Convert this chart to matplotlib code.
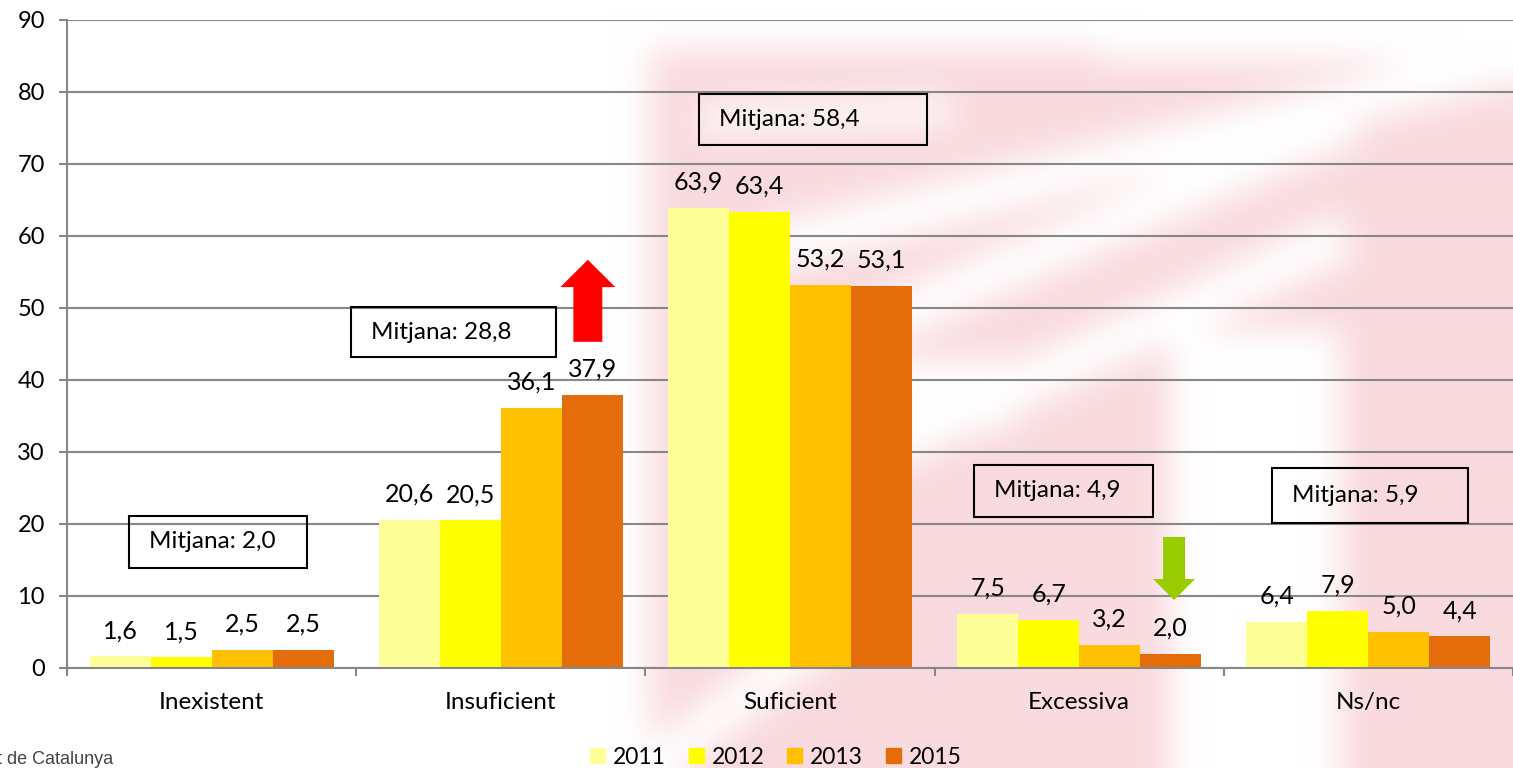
import numpy as np
import matplotlib
matplotlib.use('Agg')
import matplotlib.pyplot as plt
from matplotlib.patches import Rectangle, FancyArrow, Patch

plt.rcParams['font.family'] = ['Lato', 'DejaVu Sans']

# data
categories = ['Inexistent', 'Insuficient', 'Suficient', 'Excessiva', 'Ns/nc']
years = ['2011', '2012', '2013', '2015']
v2011 = [1.6, 20.6, 63.9, 7.5, 6.4]
v2012 = [1.5, 20.5, 63.4, 6.7, 7.9]
v2013 = [2.5, 36.1, 53.2, 3.2, 5.0]
v2015 = [2.5, 37.9, 53.1, 2.0, 4.4]
means = [2.0, 28.8, 58.4, 4.9, 5.9]

colors = ['#FFFF99', '#FFFF00', '#FFC000', '#E46C0A']
W, H = 1513, 768

fig = plt.figure(figsize=(W / 100, H / 100), dpi=100)

# faded logo watermark in the background (rough)
yy, xx = np.mgrid[0:H, 0:W].astype(float)
mask = ((xx >= 650) & (yy >= 50)).astype(float)


def band(x0, y0, x1, y1, w):
    dx, dy = x1 - x0, y1 - y0
    L = np.hypot(dx, dy)
    t = ((xx - x0) * dx + (yy - y0) * dy) / L**2
    d = np.abs((xx - x0) * dy - (yy - y0) * dx) / L
    return (t >= 0) & (t <= 1) & (d <= w / 2)


for seg in [(1100, 30, 1513, 30, 60), (760, 250, 1513, 60, 45), (860, 330, 1350, 120, 45),
            (880, 450, 1345, 235, 45), (650, 768, 830, 630, 40), (700, 120, 950, 110, 25)]:
    mask[band(*seg)] = 0
mask[(xx >= 1170) & (xx <= 1340) & (yy >= 330)] = 0
mask[(xx >= 890) & (xx <= 1010) & (yy >= 360) & (yy <= 430)] = 0


def blur(a, r):
    k = np.ones(2 * r + 1) / (2 * r + 1)
    for _ in range(3):
        a = np.apply_along_axis(lambda m: np.convolve(m, k, mode='same'), 0, a)
        a = np.apply_along_axis(lambda m: np.convolve(m, k, mode='same'), 1, a)
    return a


pad = 60
big = np.pad(mask, pad, mode='edge')
mask = blur(big, 15)[pad:-pad, pad:-pad] * 0.95
pink = np.array([249, 217, 221]) / 255.0
img = np.ones((H, W, 3)) * (1 - mask[..., None]) + pink * mask[..., None]
fig.figimage(img, xo=0, yo=0, origin='upper', zorder=-5)

ax = fig.add_axes([67 / W, 1 - 668 / H, 1 - 67 / W, (668 - 20) / H])
ax.patch.set_alpha(0)

x = np.arange(len(categories))
bw = 0.211
series = [v2011, v2012, v2013, v2015]
for i, (vals, c) in enumerate(zip(series, colors)):
    pos = x + (i - 1.5) * bw
    ax.bar(pos, vals, width=bw, color=c, zorder=3)
    for px, v in zip(pos, vals):
        ax.annotate(f'{v:.1f}'.replace('.', ','), (px, v), xytext=(0, 13),
                    textcoords='offset points', ha='center', va='baseline',
                    fontsize=18, zorder=4)

ax.set_xlim(-0.5, 4.5)
ax.set_ylim(0, 90)
ax.set_yticks(range(0, 91, 10))
ax.grid(axis='y', color='#878787', lw=1.5, zorder=1)
ax.set_xticks(x)
ax.set_xticklabels(categories, fontsize=17.5)
ax.set_xticks(np.arange(-0.5, 5, 1), minor=True)
ax.tick_params(axis='x', which='major', length=0, pad=17)
ax.tick_params(axis='x', which='minor', length=6, width=1.5, color='#878787')
ax.tick_params(axis='y', length=6, width=1.5, color='#878787', pad=10, labelsize=17)
for s in ['top', 'right']:
    ax.spines[s].set_visible(False)
for s in ['left', 'bottom']:
    ax.spines[s].set_color('#878787')
    ax.spines[s].set_linewidth(1.5)
    ax.spines[s].set_zorder(5)

# "Mitjana" boxes
boxes = [(-0.286, 13.9, 0.616, 7.2), (0.482, 43.2, 0.709, 6.9),
         (1.685, 72.6, 0.789, 7.1), (2.636, 21.0, 0.619, 7.2),
         (3.667, 20.1, 0.677, 7.7)]
for (bx, by, bwid, bh), m in zip(boxes, means):
    ax.add_patch(Rectangle((bx, by), bwid, bh, fill=False, ec='black', lw=1.5, zorder=6))
    ax.text(bx + 0.068, by + bh / 2, 'Mitjana: ' + f'{m:.1f}'.replace('.', ','),
            ha='left', va='center', fontsize=17.5, zorder=6)

# trend arrows
ax.add_patch(FancyArrow(1.301, 45.3, 0, 56.7 - 45.3, width=0.100, head_width=0.190,
                        head_length=56.7 - 52.9, length_includes_head=True,
                        color='#FF0000', lw=0, zorder=6))
ax.add_patch(FancyArrow(3.328, 18.2, 0, 9.44 - 18.2, width=0.076, head_width=0.145,
                        head_length=12.36 - 9.44, length_includes_head=True,
                        color='#99CC00', lw=0, zorder=6))

handles = [Patch(color=c) for c in colors]
fig.legend(handles, years, loc='center', bbox_to_anchor=(776 / W, 1 - 757 / H),
           ncol=4, frameon=False, fontsize=16.5, handlelength=0.65, handleheight=0.65,
           handletextpad=0.35, columnspacing=1.0)

fig.text(-3 / W, 1 - 759 / H, 't de Catalunya', family=['Liberation Sans', 'DejaVu Sans'],
         fontsize=13, color='#444444', va='center', ha='left')

fig.savefig('out.png', dpi=100)
